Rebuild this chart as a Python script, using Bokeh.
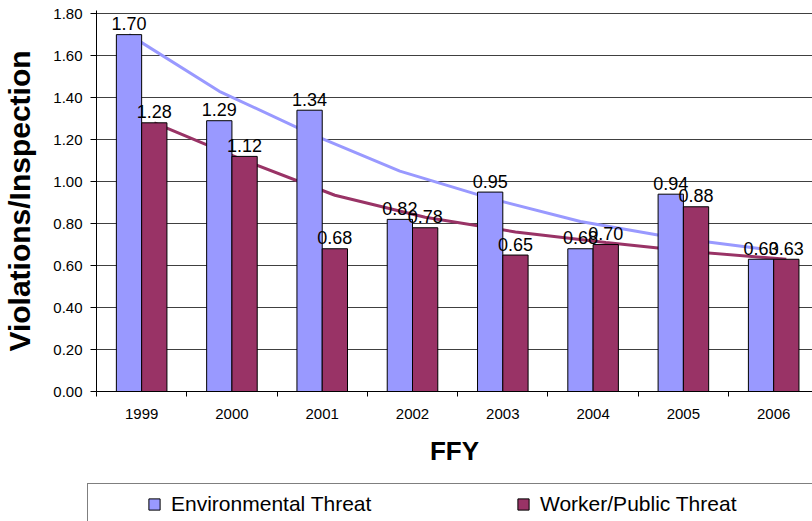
from bokeh.plotting import figure
from bokeh.layouts import column, row
from bokeh.models import (Legend, LegendItem, FixedTicker, NumeralTickFormatter,
                          Range1d, ColumnDataSource)
from bokeh.transform import dodge
from bokeh.core.properties import value
from bokeh.embed import file_html
from bokeh.resources import INLINE

# ---- data ----
years = ["1999", "2000", "2001", "2002", "2003", "2004", "2005", "2006"]
env = [1.70, 1.29, 1.34, 0.82, 0.95, 0.68, 0.94, 0.63]
worker = [1.28, 1.12, 0.68, 0.78, 0.65, 0.70, 0.88, 0.63]
# trend lines (at each bar)
env_trend = [1.70, 1.43, 1.23, 1.05, 0.92, 0.81, 0.735, 0.68]
worker_trend = [1.28, 1.10, 0.935, 0.83, 0.76, 0.71, 0.665, 0.63]
y_ticks = [0.0, 0.2, 0.4, 0.6, 0.8, 1.0, 1.2, 1.4, 1.6, 1.8]

ENV_C = "#9999FF"
WRK_C = "#993366"
FONT = "Liberation Sans"

pos = list(range(1, len(years) + 1))
src = ColumnDataSource(dict(
    x=pos, env=env, worker=worker, env_trend=env_trend, worker_trend=worker_trend,
    env_lbl=[f"{v:.2f}" for v in env], wrk_lbl=[f"{v:.2f}" for v in worker],
))

OFF = 0.14
BW = 0.28

p = figure(frame_width=716, frame_height=381,
           x_range=Range1d(0.5, 8.43), y_range=Range1d(0, 1.815),
           output_backend="svg", toolbar_location=None,
           min_border_left=96, min_border_right=0, min_border_top=10,
           min_border_bottom=89)
p.outline_line_color = None
p.background_fill_color = "white"
p.border_fill_color = "white"

# trend lines (behind bars)
p.line(x=dodge("x", -OFF), y="env_trend", source=src, line_color=ENV_C, line_width=3)
p.line(x=dodge("x", OFF), y="worker_trend", source=src, line_color=WRK_C, line_width=3)

r_env = p.vbar(x=dodge("x", -OFF), top="env", width=BW, source=src,
               fill_color=ENV_C, line_color="black", line_width=1)
r_wrk = p.vbar(x=dodge("x", OFF), top="worker", width=BW, source=src,
               fill_color=WRK_C, line_color="black", line_width=1)

for col, off, lbl in (("env", -OFF, "env_lbl"), ("worker", OFF, "wrk_lbl")):
    p.text(x=dodge("x", off), y=col, text=lbl, source=src,
           text_align="center", text_baseline="alphabetic", y_offset=-11,
           text_font=value(FONT), text_font_size="18px", text_color="black")

# axes
ticker_y = FixedTicker(ticks=y_ticks)
p.yaxis.ticker = ticker_y
p.yaxis.formatter = NumeralTickFormatter(format="0.00")
p.yaxis.major_tick_out = 6
p.yaxis.major_tick_in = 0
p.yaxis.minor_tick_line_color = None
p.yaxis.major_label_standoff = 8
p.yaxis.major_label_text_font = FONT
p.yaxis.major_label_text_font_size = "15px"
p.yaxis.major_label_text_color = "black"
p.yaxis.axis_line_color = "black"
p.yaxis.major_tick_line_color = "black"
p.yaxis.axis_label = "Violations/Inspection"
p.yaxis.axis_label_text_font = FONT
p.yaxis.axis_label_text_font_style = "bold"
p.yaxis.axis_label_text_font_size = "30px"
p.yaxis.axis_label_text_color = "black"
p.yaxis.axis_label_standoff = 14

p.xaxis.ticker = FixedTicker(ticks=pos, minor_ticks=[v - 0.5 for v in pos] + [pos[-1] + 0.5])
p.xaxis.major_label_overrides = {k: y for k, y in zip(pos, years)}
p.xaxis.major_tick_line_color = None
p.xaxis.major_tick_out = 5
p.xaxis.major_tick_in = 0
p.xaxis.minor_tick_in = 0
p.xaxis.minor_tick_out = 5
p.xaxis.minor_tick_line_color = "black"
p.xaxis.major_label_standoff = 12
p.xaxis.major_label_text_font = FONT
p.xaxis.major_label_text_font_size = "15px"
p.xaxis.major_label_text_color = "black"
p.xaxis.axis_line_color = "black"
p.xaxis.axis_label = "FFY"
p.xaxis.axis_label_text_font = FONT
p.xaxis.axis_label_text_font_style = "bold"
p.xaxis.axis_label_text_font_size = "26px"
p.xaxis.axis_label_text_color = "black"
p.xaxis.axis_label_standoff = 14

p.ygrid.ticker = ticker_y
p.ygrid.grid_line_color = "#404040"
p.ygrid.grid_line_width = 1
p.xgrid.grid_line_color = None

# ---- legend strip (the series' bars lie outside this strip's y range) ----
lg = figure(width=812, height=41, x_range=Range1d(0.5, 8.43), y_range=Range1d(10, 11),
            output_backend="svg", toolbar_location=None, min_border=0,
            x_axis_location=None, y_axis_location=None)
lg.grid.grid_line_color = None
lg.outline_line_color = None
lg.border_fill_color = "white"

dummy = lg.scatter(x="x", y="env", source=src, alpha=0)
l_env = lg.vbar(x=dodge("x", -OFF), top="env", width=BW, source=src,
                fill_color=ENV_C, line_color="black", line_width=1)
l_wrk = lg.vbar(x=dodge("x", OFF), top="worker", width=BW, source=src,
                fill_color=WRK_C, line_color="black", line_width=1)

frame_leg = Legend(items=[LegendItem(label=" ", renderers=[dummy])],
                   location=(87, -4), orientation="horizontal",
                   padding=8, glyph_width=1, glyph_height=24, label_width=900,
                   label_text_font_size="21px", label_text_font=FONT,
                   border_line_color="black", border_line_width=1,
                   background_fill_color="white", margin=0)
lg.add_layout(frame_leg)

leg = Legend(items=[LegendItem(label="Environmental Threat", renderers=[l_env]),
                    LegendItem(label="Worker/Public Threat", renderers=[l_wrk])],
             location=(147, 5), orientation="horizontal",
             padding=0, spacing=0, glyph_width=14, glyph_height=14,
             label_standoff=10, label_width=345,
             label_text_font=FONT, label_text_font_size="21px",
             label_text_color="black",
             border_line_color=None, background_fill_alpha=0, margin=0)
lg.add_layout(leg)

open("out.html", "w").write(file_html(column(p, row(lg), spacing=0), INLINE))
